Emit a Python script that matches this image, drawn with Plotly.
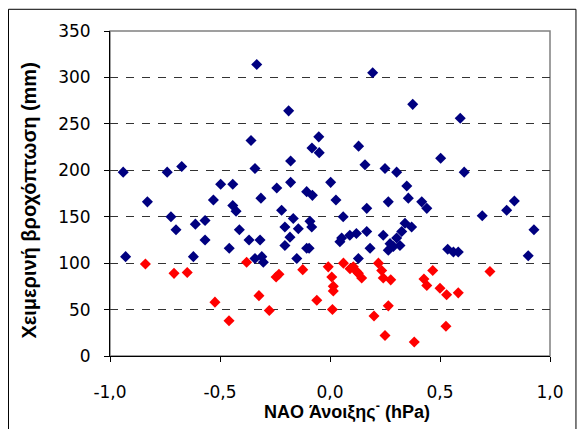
import plotly.graph_objects as go

# blue: rainfall above ~100 mm, red: below
blue_x = [-0.94, -0.74, -0.674, -0.341, -0.179, -0.333, -0.188, -0.359, -0.051, -0.082,
          -0.049, -0.497, -0.442, -0.242, -0.179, -0.106, -0.08, 0.003, -0.83, -0.53,
          -0.314, 0.027, -0.723, -0.70, -0.612, -0.568, -0.568, -0.458, -0.621, -0.929,
          -0.442, -0.427, -0.412, -0.368, -0.318, -0.341, -0.31, -0.303, -0.22, -0.167,
          -0.205, -0.144, -0.083, -0.182, -0.205, -0.106, -0.151, -0.095, -0.091, 0.045,
          0.159, 0.25, 0.303, 0.503, 0.61, 0.349, 0.194, 0.376, 0.592, 0.13,
          0.06, 0.167, 0.265, 0.356, 0.417, 0.44, 0.692, 0.803, 0.838, 0.927,
          0.901, 0.09, 0.12, 0.167, 0.053, 0.182, 0.242, 0.273, 0.288, 0.303,
          0.326, 0.341, 0.371, 0.265, 0.129, 0.318, 0.535, 0.561, 0.583]
blue_y = [198, 198, 204, 202, 210, 314, 264, 232, 236, 224,
          219, 185, 185, 181, 187, 177, 173, 187, 166, 168,
          170, 168, 150, 136, 142, 146, 125, 116, 107, 107,
          162, 156, 136, 125, 125, 105, 107, 101, 157, 148,
          139, 137, 139, 128, 119, 116, 105, 116, 145, 123,
          206, 202, 198, 213, 198, 183, 305, 271, 256, 226,
          150, 159, 166, 170, 166, 159, 151, 157, 167, 136,
          108, 130, 132, 134, 127, 116, 130, 121, 118, 127,
          134, 143, 139, 114, 105, 119, 115, 112, 112]

red_x = [-0.839, -0.709, -0.649, -0.379, -0.245, -0.232, -0.523, -0.459, -0.323, -0.276,
         -0.124, -0.06, -0.008, 0.008, 0.015, 0.011, 0.015, 0.061, 0.091, 0.106,
         0.121, 0.129, 0.144, 0.22, 0.235, 0.242, 0.276, 0.467, 0.427, 0.44,
         0.5, 0.53, 0.583, 0.727, 0.265, 0.2, 0.527, 0.25, 0.383]
red_y = [99, 89, 90, 101, 85, 88, 58, 38, 65, 49,
         93, 60, 96, 85, 75, 50, 70, 100, 94, 96,
         91, 89, 84, 100, 92, 84, 82, 92, 83, 76,
         73, 66, 68, 91, 54, 43, 32, 22, 15]

x_ticks = [-1.0, -0.5, 0.0, 0.5, 1.0]
x_labels = ['-1,0', '-0,5', '0,0', '0,5', '1,0']
y_ticks = [0, 50, 100, 150, 200, 250, 300, 350]

fig = go.Figure()
fig.add_trace(go.Scatter(x=blue_x, y=blue_y, mode='markers',
                         marker=dict(symbol='diamond', size=8.5, color='#000080', line=dict(width=0))))
fig.add_trace(go.Scatter(x=red_x, y=red_y, mode='markers',
                         marker=dict(symbol='diamond', size=8.5, color='#FF0000', line=dict(width=0))))

tick_font = dict(family='DejaVu Sans', size=17, color='black')
title_font = dict(family='Liberation Sans', size=18, color='black')

fig.update_layout(
    width=580, height=421,
    showlegend=False,
    plot_bgcolor='white', paper_bgcolor='white',
    font=dict(family='Liberation Sans', color='black', size=15),
    margin=dict(l=102, r=38, t=23, b=73),
    shapes=[
        dict(type='rect', xref='paper', yref='paper', x0=0, x1=1, y0=0, y1=1,
             line=dict(color='#808080', width=1.5), layer='below'),
        dict(type='rect', xref='paper', yref='paper', x0=-0.2307, x1=1.059, y0=-0.3, y1=1.0668,
             line=dict(color='black', width=1), layer='below'),
    ],
    annotations=[
        dict(text='<b>NAO Άνοιξης<sup>-</sup> (hPa)</b>', xref='paper', yref='paper',
             x=0.539, y=-0.169, showarrow=False, font=title_font,
             xanchor='center', yanchor='middle'),
        dict(text='<b>Χειμερινή βροχόπτωση (mm)</b>', xref='paper', yref='paper',
             x=-0.185, y=0.477, showarrow=False, font=dict(title_font, size=20),
             textangle=-90, xanchor='center', yanchor='middle'),
    ],
)
fig.update_xaxes(
    range=[-1, 1], tickvals=x_ticks, ticktext=x_labels, tickfont=tick_font,
    showgrid=False, zeroline=False,
    showline=True, linecolor='black', linewidth=1,
    ticks='outside', ticklen=5, tickcolor='black', ticklabelstandoff=16,
)
fig.update_yaxes(
    range=[0, 350], tickvals=y_ticks, tickfont=tick_font,
    showgrid=True, gridcolor='#333333', griddash='8px,8px', gridwidth=1,
    zeroline=False,
    showline=True, linecolor='black', linewidth=1,
    ticks='outside', ticklen=5, tickcolor='black', ticklabelstandoff=10,
)

fig.write_html("out.html")
